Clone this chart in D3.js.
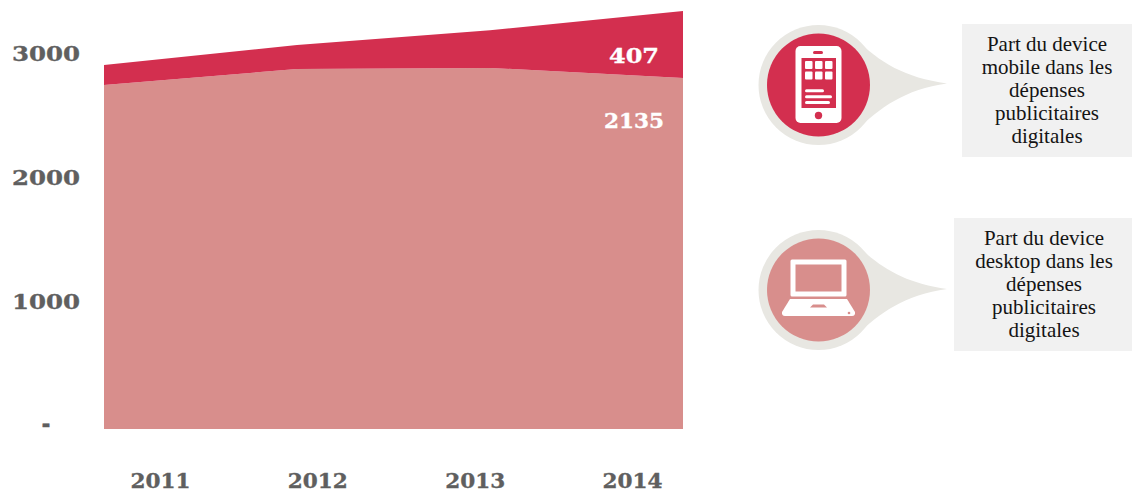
<!DOCTYPE html>
<html><head><meta charset="utf-8">
<script src="https://cdnjs.cloudflare.com/ajax/libs/d3/7.8.5/d3.min.js"></script>
<style>html,body{margin:0;padding:0;background:#fff}svg{display:block}</style>
</head><body><svg id="c" width="1132" height="495"></svg>
<script>
const years = [2011, 2012, 2013, 2014];
const desktop = [2775, 2903, 2912, 2830];
const mobile = [160, 194, 304, 541];
const yTicks = [0, 1000, 2000, 3000];
const yTickLabels = ["-", "1000", "2000", "3000"];
const endLabels = ["407", "2135"];
const mobileLines = ["Part du device", "mobile dans les", "dépenses", "publicitaires", "digitales"];
const desktopLines = ["Part du device", "desktop dans les", "dépenses", "publicitaires", "digitales"];

const RED = "#d32f4f", PINK = "#d88e8c", HALO = "#e8e7e2", BOX = "#f1f1f1", GREY = "#5f5f5f";
const SERIF = "'DejaVu Serif', serif", BODY = "'Liberation Serif', serif";
const svg = d3.select("#c");
const x = d3.scalePoint().domain(years).range([104, 683]);
const xLabel = d3.scalePoint().domain(years).range([160.5, 632.5]);
const y = d3.scaleLinear().domain([0, 3000]).range([429, 57]);

const rows = years.map((yr, i) => ({year: yr, desktop: desktop[i], mobile: mobile[i]}));
const series = d3.stack().keys(["desktop", "mobile"])(rows);
const area = d3.area().x(d => x(d.data.year)).y0(d => y(d[0])).y1(d => y(d[1]));
svg.selectAll("path.a").data(series).join("path").attr("class", "a")
  .attr("d", area).attr("fill", (d, i) => i ? RED : PINK);

function num(g, t, px, py, w, fill, size) {
  g.append("text").attr("x", px).attr("y", py).attr("text-anchor", "middle")
    .attr("font-family", SERIF).attr("font-weight", 700).attr("font-size", size).attr("fill", fill)
    .attr("stroke", fill).attr("stroke-width", 0.35)
    .attr("textLength", w).attr("lengthAdjust", "spacingAndGlyphs").text(t);
}
const gy = svg.append("g"), gx = svg.append("g");
yTicks.forEach((t, i) => {
  if (t === 0) num(gy, yTickLabels[i], 46, y(t) + 3, 9, GREY, 24);
  else num(gy, yTickLabels[i], 46, y(t) + 3.5, 68, GREY, 20);
});
years.forEach(yr => num(gx, String(yr), xLabel(yr), 487.5, 60, GREY, 20));

num(svg, endLabels[0], 634, 63, 50, "#fff", 21);
num(svg, endLabels[1], 634, 128, 60, "#fff", 20);

function callout(cy, tipY, fill) {
  const cx = 818.5, R = 60, r = 51.5, tipX = 947;
  const g = svg.append("g");
  const p = d3.path();
  p.moveTo(tipX, tipY);
  p.bezierCurveTo(905, tipY + 6, 880, cy + 22, 855, cy + 47);
  p.lineTo(855, cy - 47);
  p.bezierCurveTo(880, cy - 22, 905, tipY - 6, tipX, tipY);
  g.append("path").attr("d", p.toString()).attr("fill", HALO);
  g.append("circle").attr("cx", cx).attr("cy", cy).attr("r", R).attr("fill", HALO);
  g.append("circle").attr("cx", cx).attr("cy", cy).attr("r", r).attr("fill", fill);
  return g;
}
function box(x0, y0, w, h, lines, cx) {
  svg.append("rect").attr("x", x0).attr("y", y0).attr("width", w).attr("height", h).attr("fill", BOX);
  lines.forEach((l, i) => svg.append("text").attr("x", cx).attr("y", y0 + 26.5 + i * 23)
    .attr("text-anchor", "middle").attr("font-family", BODY).attr("font-size", 21).attr("fill", "#141414").text(l));
}

const g1 = callout(85, 83.5, RED);
g1.append("rect").attr("x", 795.5).attr("y", 46).attr("width", 46).attr("height", 77).attr("rx", 5).attr("fill", "#fff");
g1.append("rect").attr("x", 801.5).attr("y", 58).attr("width", 34.500).attr("height", 50).attr("fill", RED);
g1.append("rect").attr("x", 813).attr("y", 51).attr("width", 10).attr("height", 3).attr("rx", 1.5).attr("fill", RED);
g1.append("circle").attr("cx", 818.5).attr("cy", 115.5).attr("r", 3.7).attr("fill", RED);
[805, 815, 825].forEach(px => [61, 71.5].forEach(py =>
  g1.append("rect").attr("x", px).attr("y", py).attr("width", 7.5).attr("height", 8).attr("rx", 1).attr("fill", "#fff")));
[[805, 19], [805, 27], [805, 25]].forEach((d, i) =>
  g1.append("rect").attr("x", d[0]).attr("y", 89.3 + i * 5.9).attr("width", d[1]).attr("height", 3).attr("rx", 1.5).attr("fill", "#fff"));
box(962, 24, 170, 133, mobileLines, 1047);

const g2 = callout(290, 289, PINK);
g2.append("rect").attr("x", 790.5).attr("y", 259.5).attr("width", 56).attr("height", 37).attr("rx", 1.5).attr("fill", "#fff");
g2.append("rect").attr("x", 795.5).attr("y", 264.5).attr("width", 46).attr("height", 27).attr("fill", PINK);
g2.append("path").attr("d", "M790,299H847L855,312Q855.5,316 852,316H785Q781.5,316 782,312Z").attr("fill", "#fff");
g2.append("path").attr("d", "M810,307.500L813,304.500H824L827,307.500Z").attr("fill", PINK);
g2.append("circle").attr("cx", 849).attr("cy", 313).attr("r", 1.3).attr("fill", PINK);
box(954, 218, 178, 133, desktopLines, 1044);
</script></body></html>
